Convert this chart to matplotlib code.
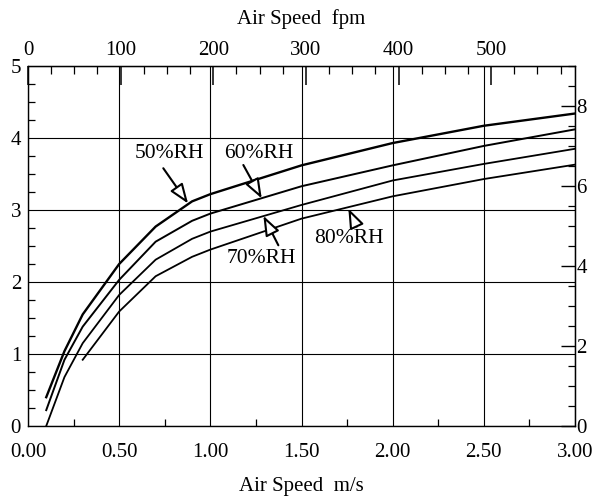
import numpy as np
import matplotlib
matplotlib.use('Agg')
import matplotlib.pyplot as plt
from matplotlib.ticker import MultipleLocator, FixedLocator

plt.rcParams['font.family'] = ['Liberation Serif', 'DejaVu Serif']

# air speed m/s (knots)
speed = [0.1, 0.2, 0.3, 0.5, 0.7, 0.9, 1.0, 1.5, 2.0, 2.5, 3.0]
speed80 = [0.3, 0.5, 0.7, 0.9, 1.0, 1.5, 2.0, 2.5, 3.0]

rh50 = [0.40, 1.04, 1.55, 2.25, 2.77, 3.12, 3.22, 3.62, 3.93, 4.17, 4.34]
rh60 = [0.22, 0.92, 1.38, 2.03, 2.56, 2.85, 2.95, 3.33, 3.62, 3.89, 4.12]
rh70 = [0.00, 0.68, 1.15, 1.82, 2.31, 2.60, 2.70, 3.07, 3.41, 3.64, 3.85]
rh80 = [0.92, 1.59, 2.08, 2.35, 2.45, 2.88, 3.19, 3.43, 3.63]

# label text, text position, arrow tail, arrow head
labels = ['50%RH', '60%RH', '70%RH', '80%RH']
label_xy = [(0.774, 3.79), (1.264, 3.79), (1.277, 2.33), (1.762, 2.61)]
tail_xy = [(0.742, 3.58), (1.181, 3.625), (1.373, 2.51), (1.803, 2.77)]
head_xy = [(0.878, 3.09), (1.282, 3.16), (1.291, 2.92), (1.757, 3.02)]

fpm_major = [0, 100, 200, 300, 400, 500]
fpm_minor = np.arange(25, 590, 25)
right_major = [0, 2, 4, 6, 8]


def ms2fpm(v):
    return np.asarray(v) / 0.00508


def fpm2ms(v):
    return np.asarray(v) * 0.00508


fig = plt.figure(figsize=(5.93, 4.99), dpi=100)
ax = fig.add_axes([28 / 593, 73 / 499, 547 / 593, 360 / 499])

ax.plot(speed, rh50, color='black', lw=1.7)
ax.plot(speed, rh60, color='black', lw=1.4)
ax.plot(speed, rh70, color='black', lw=1.3)
ax.plot(speed80, rh80, color='black', lw=1.3)

for lab, txy, t, h in zip(labels, label_xy, tail_xy, head_xy):
    ax.text(txy[0], txy[1], lab, fontsize=15.5, ha='center', va='center')
    ax.annotate('', xy=h, xytext=t,
                arrowprops=dict(arrowstyle='-|>,head_length=0.8,head_width=0.3',
                                fc='white', ec='black', lw=1.5,
                                shrinkA=0, shrinkB=0, mutation_scale=15))

ax.set_xlim(0, 3.0)
ax.set_ylim(0, 5)
ax.xaxis.set_major_locator(MultipleLocator(0.5))
ax.xaxis.set_minor_locator(MultipleLocator(0.25))
ax.yaxis.set_major_locator(MultipleLocator(1))
ax.yaxis.set_minor_locator(MultipleLocator(0.25))
ax.xaxis.set_major_formatter(lambda v, p: f'{v:.2f}')
ax.grid(True, which='major', color='black', lw=0.8)
ax.tick_params(which='both', direction='in', labelsize=15, color='black')
ax.tick_params(axis='x', which='major', length=0, pad=12)
ax.tick_params(axis='y', which='major', length=0, pad=5)
ax.tick_params(which='minor', length=5, width=0.9)
for s in ax.spines.values():
    s.set_linewidth(1.0)

top = ax.secondary_xaxis('top', functions=(ms2fpm, fpm2ms))
top.xaxis.set_major_locator(FixedLocator(fpm_major))
top.xaxis.set_minor_locator(FixedLocator(fpm_minor))
top.tick_params(which='both', direction='in', labelsize=15, pad=4)
top.tick_params(which='major', length=14, width=1.1)
top.tick_params(which='minor', length=6, width=0.9)

right = ax.secondary_yaxis('right', functions=(lambda y: y * 1.8, lambda y: y / 1.8))
right.yaxis.set_major_locator(FixedLocator(right_major))
right.yaxis.set_minor_locator(MultipleLocator(0.5))
right.tick_params(which='both', direction='in', labelsize=15, pad=1)
right.tick_params(which='major', length=10, width=1.0)
right.tick_params(which='minor', length=5, width=0.9)

fig.text(301.5 / 593, 1 - 19 / 499, 'Air Speed  fpm', fontsize=15, ha='center', va='center')
fig.text(301.5 / 593, 1 - 486 / 499, 'Air Speed  m/s', fontsize=15, ha='center', va='center')

fig.savefig('out.png', dpi=100)
